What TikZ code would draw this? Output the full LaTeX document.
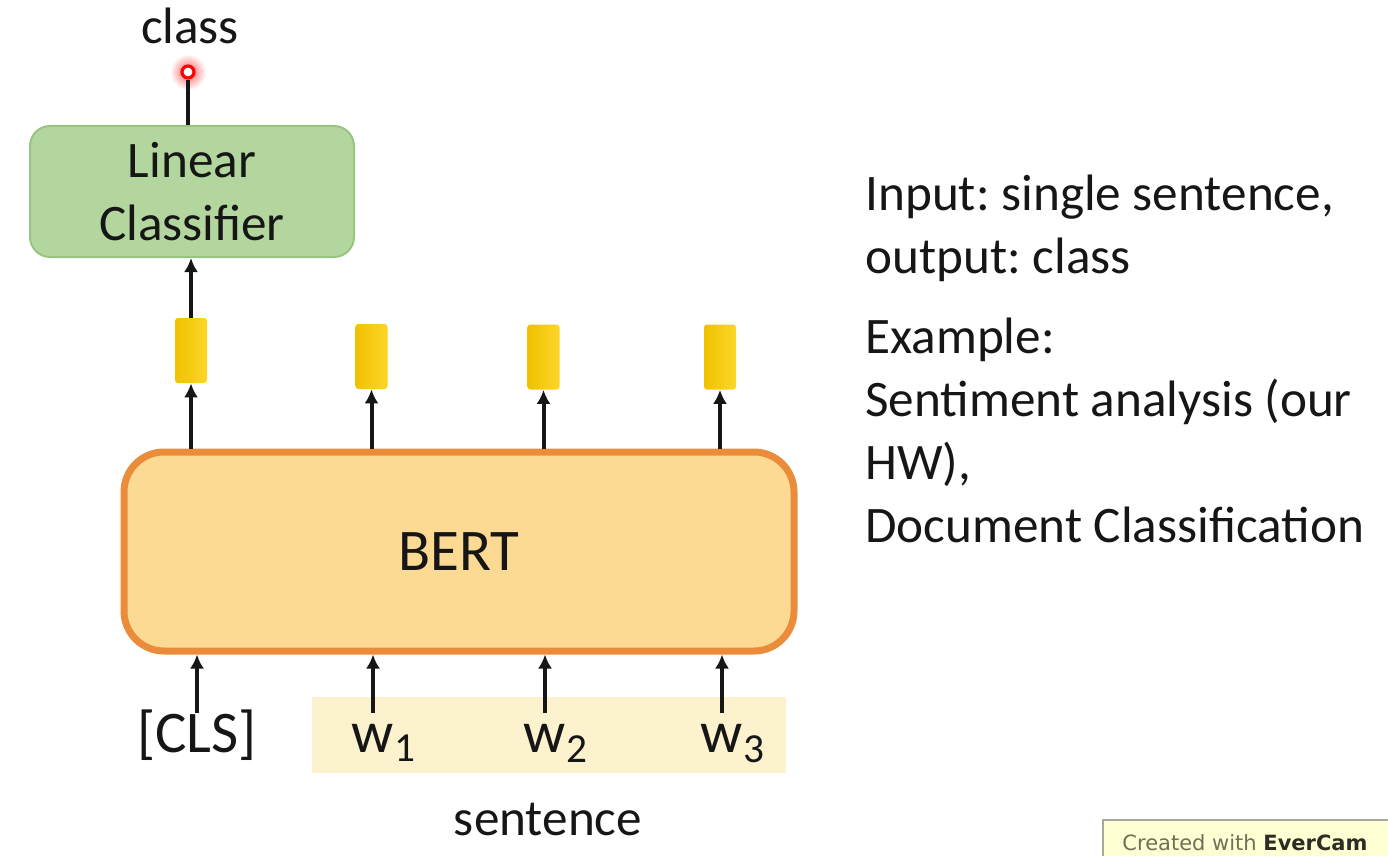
\documentclass[tikz,border=0pt]{standalone}
\usepackage{fontspec}
\setmainfont{Carlito}
\newfontfamily\markfont{DejaVu Sans}
\frenchspacing
\usepackage{tikz}
\usetikzlibrary{arrows.meta,positioning,calc}
\tikzset{>={Latex[length=7pt,width=7pt]}}
\definecolor{clfgreen}{RGB}{179,214,158}
\definecolor{clfedge}{RGB}{152,198,128}
\definecolor{bertfill}{RGB}{252,218,148}
\definecolor{bertedge}{RGB}{234,140,58}
\definecolor{embgold}{RGB}{240,193,0}
\definecolor{emblight}{RGB}{252,214,40}
\definecolor{sentfill}{RGB}{253,242,206}
\definecolor{inktext}{RGB}{22,22,22}
\definecolor{markfill}{RGB}{255,255,212}
\definecolor{markink}{RGB}{112,112,88}

\begin{document}
\begin{tikzpicture}[x=0.5pt, y=-0.5pt,
  every node/.style={text=inktext},
  flow/.style={->, line width=2pt, draw=inktext},
  emb/.style={rectangle, rounded corners=1.5pt, minimum width=16pt, minimum height=32.5pt, inner sep=0pt, left color=embgold, right color=emblight},
  token/.style={anchor=north, inner sep=0pt, text height=19.5pt, font=\fontsize{29.5}{35}\selectfont},
  infotext/.style={anchor=base west, align=left, inner sep=0pt, font=\fontsize{25.6}{31.5}\selectfont}]
\useasboundingbox (0,0) rectangle (1388,856);
\node[minimum width=237pt, minimum height=38pt, inner sep=0pt, fill=sentfill] (sent) at (549,735) {};
\node[anchor=base, font=\fontsize{25.6}{30}\selectfont] (sentlabel) at (548,835) {sentence};

\shade[inner color=red!65, outer color=white] (188,72) circle [radius=9pt];
\node[circle, draw=red, fill=white, line width=1.6pt, minimum size=6pt, inner sep=0pt] (dot) at (188,72) {};
\node[anchor=base, font=\fontsize{25.6}{30}\selectfont] (classlabel) at (190,44) {class};
\node[rectangle, rounded corners=10pt, fill=clfgreen, draw=clfedge, line width=1pt, minimum width=162pt, minimum height=65.5pt, align=center, font=\fontsize{25.6}{31.5}\selectfont] (clf) at (192,191.5) {Linear\\Classifier};
\draw[line width=2pt, inktext] (dot.south) -- (dot.south |- clf.north);

\node[emb] (e1) at (191,350.5) {};
\node[emb] (e2) at (371.5,356.5) {};
\node[emb] (e3) at (543.5,357) {};
\node[emb] (e4) at (720,357) {};
\draw[flow] (e1.north) -- (e1.north |- clf.south);

\node[rectangle, rounded corners=20pt, fill=bertfill, draw=bertedge, line width=3.5pt, minimum width=335pt, minimum height=99.5pt, font=\fontsize{29.5}{35}\selectfont] (bert) at (459,551.5) {BERT};
\foreach \e in {e1,e2,e3,e4}
  \draw[flow] (bert.north -| \e) -- (\e.south);

\node[token] (cls) at (197,713) {[CLS]};
\node[token] (w1) at (373,713) {w\rlap{\textsubscript{1}}};
\node[token] (w2) at (545,713) {w\rlap{\textsubscript{2}}};
\node[token] (w3) at (722,713) {w\rlap{\textsubscript{3}}};
\foreach \t in {cls,w1,w2,w3}
  \draw[flow] (\t.north) -- (\t.north |- bert.south);

\node[infotext] (task) at (865,273) {Input: single sentence,\\output: class};
\node[infotext] (example) at (865,542) {Example:\\Sentiment analysis (our\\HW),\\Document Classification};

\begin{scope}
\clip (0,0) rectangle (1388,856);
\draw[fill=markfill, draw=markink!60, line width=0.6pt] (1103,820) rectangle (1420,880);
\node[anchor=base west, inner sep=0pt, text=markink, font=\markfont\fontsize{10.5}{12}\selectfont] (mark) at (1122,850) {Created with \textbf{\color{markink!40!black}EverCam}};
\end{scope}
\end{tikzpicture}
\end{document}
